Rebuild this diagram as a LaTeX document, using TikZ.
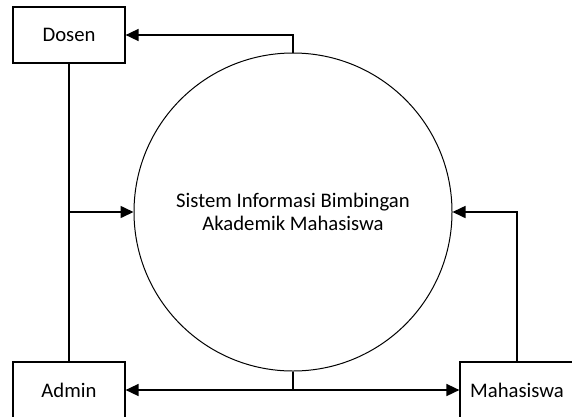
\documentclass[tikz,border=0pt]{standalone}
\usepackage{fontspec}
\setmainfont{Carlito}
\usetikzlibrary{arrows.meta}
\begin{document}
\begin{tikzpicture}[x=1pt,y=-1pt,
  ent/.style={draw, line width=1.2pt, rectangle, minimum width=112pt, minimum height=56pt, inner sep=0pt, font=\fontsize{20.7}{23.5}\selectfont},
  proc/.style={draw, line width=1pt, circle, minimum size=318pt, inner sep=0pt, align=center, font=\fontsize{20.7}{23.5}\selectfont},
  conn/.style={line width=1.6pt},
  arr/.style={conn, -{Triangle[length=13pt,width=12pt]}}]
\useasboundingbox (0,0) rectangle (572,416);
\clip (0,0) rectangle (572,416);
\node[proc] (sys) at (293,212) {Sistem Informasi Bimbingan\\Akademik Mahasiswa};
\node[ent] (dosen) at (69,35) {Dosen};
\node[ent] (admin) at (69,390) {Admin};
\node[ent, minimum width=114pt] (mhs) at (517,390) {Mahasiswa};
\draw[arr] (sys.north) |- (dosen.east);
\draw[conn] (dosen.south) -- (admin.north);
\draw[arr] (dosen.south |- sys.west) -- (sys.west);
\coordinate (split) at (sys.south |- admin.east);
\draw[conn] (sys.south) -- (split);
\draw[arr] (split) -- (admin.east);
\draw[arr] (split) -- (mhs.west);
\draw[arr] (mhs.north) |- (sys.east);
\end{tikzpicture}
\end{document}
